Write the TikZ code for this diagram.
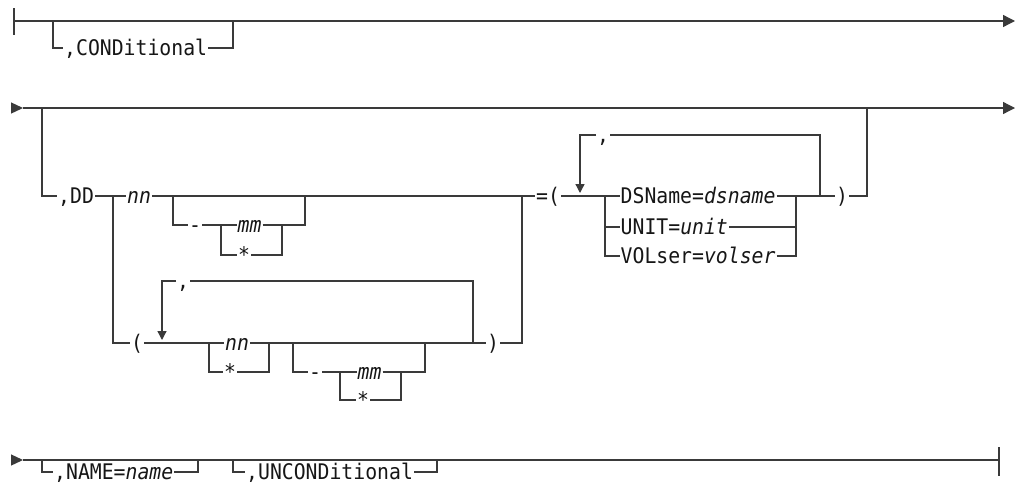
\documentclass[tikz,border=0pt]{standalone}
\usepackage{fontspec}
\setmonofont[FakeStretch=0.92]{DejaVu Sans Mono}
\usetikzlibrary{arrows.meta,calc,positioning}
\definecolor{RailInk}{HTML}{3A3A3A}
\definecolor{RailText}{HTML}{161616}
\tikzset{
  every node/.style={font=\ttfamily\fontsize{21.5}{24}\selectfont, text=RailText},
  token/.style={anchor=west, inner xsep=1pt, inner ysep=0pt, text height=19.7pt, text depth=4pt},
  var/.style={token, font=\ttfamily\itshape\fontsize{21.5}{24}\selectfont},
  sep/.style={token, yshift=3pt},
  rail/.style={draw=RailInk, line width=1.3pt},
  notch/.style={draw=RailInk, line width=2.6pt},
  enter/.style={-{Triangle[length=12pt,width=11pt]}, draw=RailInk, line width=1.3pt},
  exit/.style={-{Triangle[length=12pt,width=12pt]}, draw=RailInk, line width=1.3pt},
  repeat/.style={-{Triangle[length=9pt,width=9pt]}, draw=RailInk, line width=1.3pt},
}

\begin{document}
\begin{tikzpicture}[x=1pt, y=-1pt]
  \useasboundingbox (0,0) rectangle (1017,501);
  % Row 1: optional ,CONDitional
  \coordinate (r1start) at (14,21);
  \coordinate (r1end) at (1015,21);
  \coordinate (condin) at (53,21);
  \coordinate (condout) at (233,21);
  \node[token] (cond) at (63,48) {,CONDitional};
  \draw[rail] (r1start) ++(0,-13) -- ++(0,27);
  \draw[exit] (r1start) -- (r1end);
  \draw[notch] (r1start) ++(9,0) -- ++(6,0);
  \draw[rail] (condin) |- (cond.west);
  \draw[rail] (cond.east) -| (condout);

  % Row 2: optional ,DD with volume list
  \coordinate (r2in) at (11,108);
  \coordinate (r2start) at (23,108);
  \coordinate (r2end) at (1015,108);
  \coordinate (ddin) at (42,108);
  \coordinate (ddout) at (867,108);
  \coordinate (split) at (113,196);
  \coordinate (optin) at (173,196);
  \coordinate (optout) at (305,196);
  \coordinate (mmin) at (221,225);
  \coordinate (mmout) at (282,225);
  \coordinate (eqjoin) at (522,196);
  \coordinate (loopin) at (162,343);
  \coordinate (loopstop) at (162,340);
  \coordinate (altin) at (209,343);
  \coordinate (altout) at (269,343);
  \coordinate (rangein) at (293,343);
  \coordinate (rangeout) at (425,343);
  \coordinate (mmtwoin) at (340,372);
  \coordinate (mmtwoout) at (401,372);
  \coordinate (loopout) at (473,343);
  \coordinate (keyloopin) at (580,196);
  \coordinate (keyloopstop) at (580,193);
  \coordinate (choicein) at (605,196);
  \coordinate (choiceout) at (796,196);
  \coordinate (keyloopout) at (820,196);

  \node[token] (dd) at (57,196) {,DD};
  \node[var] (nnone) at (126,196) {nn};
  \node[token] (dashone) at (188,225) {-};
  \node[var] (mmone) at (236.5,225) {mm};
  \node[token] (starone) at (237,255) {*};
  \node[token] (lp) at (130,343) {(};
  \node[sep] (commaone) at (176,284) {,};
  \node[var] (nntwo) at (224,343) {nn};
  \node[token] (startwo) at (223,372) {*};
  \node[token] (dashtwo) at (308,372) {-};
  \node[var] (mmtwo) at (356.5,372) {mm};
  \node[token] (starthree) at (356,400) {*};
  \node[token] (rpone) at (486,343) {)};
  \node[token] (eqp) at (535,196) {=(};
  \node[sep] (commatwo) at (596,138) {,};
  \node[token] (dsname) at (619.5,196) {DSName=\textit{dsname}};
  \node[token] (unit) at (619.5,227) {UNIT=\textit{unit}};
  \node[token] (volser) at (619.5,256) {VOLser=\textit{volser}};
  \node[token] (rptwo) at (835,196) {)};

  \draw[enter] (r2in) -- (r2start);
  \draw[exit] (r2start) -- (r2end);
  \draw[rail] (ddin) |- (dd.west);
  \draw[rail] (dd.east) -- (nnone.west);
  \draw[rail] (nnone.east) -- (eqp.west);
  \draw[rail] (optin) |- (dashone.west);
  \draw[rail] (dashone.east) -- (mmone.west);
  \draw[rail] (mmone.east) -| (optout);
  \draw[rail] (mmin) |- (starone.west);
  \draw[rail] (starone.east) -| (mmout);
  % parenthesised list
  \draw[rail] (split) |- (lp.west);
  \draw[rail] (lp.east) -- (nntwo.west);
  \draw[rail] (altin) |- (startwo.west);
  \draw[rail] (startwo.east) -| (altout);
  \draw[rail] (nntwo.east) -- (rpone.west);
  \draw[rail] (rangein) |- (dashtwo.west);
  \draw[rail] (dashtwo.east) -- (mmtwo.west);
  \draw[rail] (mmtwo.east) -| (rangeout);
  \draw[rail] (mmtwoin) |- (starthree.west);
  \draw[rail] (starthree.east) -| (mmtwoout);
  \draw[rail] (loopout) |- (commaone.east);
  \draw[repeat] (commaone.west) -| (loopstop);
  \draw[rail] (rpone.east) -| (eqjoin);
  % keyword choices
  \draw[rail] (eqp.east) -- (dsname.west);
  \draw[rail] (choicein) |- (unit.west);
  \draw[rail] (choicein) |- (volser.west);
  \draw[rail] (dsname.east) -- (rptwo.west);
  \draw[rail] (unit.east) -| (choiceout);
  \draw[rail] (volser.east) -| (choiceout);
  \draw[rail] (keyloopout) |- (commatwo.east);
  \draw[repeat] (commatwo.west) -| (keyloopstop);
  \draw[rail] (rptwo.east) -| (ddout);

  % Row 3: optional ,NAME and ,UNCONDitional
  \coordinate (r3in) at (12,460);
  \coordinate (r3start) at (23,460);
  \coordinate (r3end) at (999,460);
  \coordinate (namein) at (42,460);
  \coordinate (nameout) at (198,460);
  \coordinate (uncin) at (233,460);
  \coordinate (uncout) at (437,460);
  \node[token] (name) at (53,472) {,NAME=\textit{name}};
  \node[token] (uncond) at (245,472) {,UNCONDitional};
  \draw[enter] (r3in) -- (r3start);
  \draw[rail] (r3start) -- (r3end);
  \draw[rail] (r3end) ++(0,-13) -- ++(0,29);
  \draw[notch] (uncout) ++(4,0) -- ++(7,0);
  \draw[rail] (namein) |- (name.west);
  \draw[rail] (name.east) -| (nameout);
  \draw[rail] (uncin) |- (uncond.west);
  \draw[rail] (uncond.east) -| (uncout);
\end{tikzpicture}
\end{document}
